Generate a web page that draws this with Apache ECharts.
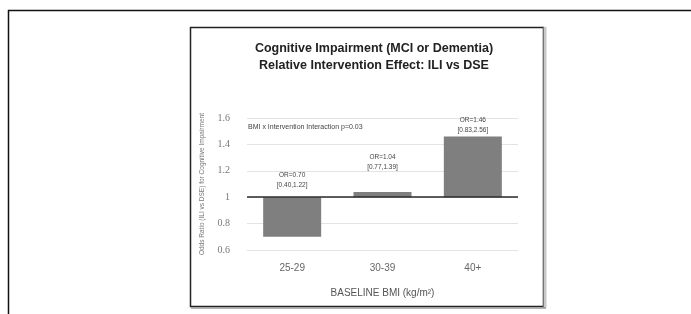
<!DOCTYPE html>
<html>
<head>
<meta charset="utf-8">
<script src="https://cdn.jsdelivr.net/npm/echarts@6/dist/echarts.min.js"></script>
<style>
  html, body { margin: 0; padding: 0; background: #fff; }
  #main { width: 691px; height: 314px; }
</style>
</head>
<body>
<div id="main"></div>
<script>
// data
var bmiGroups = ['25-29', '30-39', '40+'];
var oddsRatio = [0.70, 1.04, 1.46];
var orText = ['OR=0.70', 'OR=1.04', 'OR=1.46'];
var ciText = ['[0.40,1.22]', '[0.77,1.39]', '[0.83,2.56]'];
var yTicks = [0.6, 0.8, 1, 1.2, 1.4, 1.6];

var chart = echarts.init(document.getElementById('main'));

// bars hang from 1, so stack an invisible base under the grey part
var baseVals = oddsRatio.map(function (v) { return Math.min(v, 1); });
var diffVals = oddsRatio.map(function (v) { return Math.abs(v - 1); });
var labelDist = [7, 20, 1];

var option = {
  animation: false,
  title: {
    text: 'Cognitive Impairment (MCI or Dementia)\nRelative Intervention Effect: ILI vs DSE',
    left: 369,
    textAlign: 'center',
    top: 35,
    textStyle: {
      fontFamily: 'Liberation Sans, sans-serif',
      fontSize: 12.5,
      fontWeight: 'bold',
      color: '#222',
      lineHeight: 17
    }
  },
  grid: { left: 247, right: 173, top: 118, bottom: 64 },
  xAxis: {
    type: 'category',
    data: bmiGroups,
    name: 'BASELINE BMI (kg/m²)',
    nameLocation: 'middle',
    nameGap: 38,
    nameTextStyle: { fontFamily: 'Liberation Sans, sans-serif', fontSize: 10, color: '#555' },
    axisLine: { show: false },
    axisTick: { show: false },
    axisLabel: { margin: 13, fontFamily: 'Liberation Sans, sans-serif', fontSize: 10, color: '#666' }
  },
  yAxis: {
    type: 'value',
    min: yTicks[0],
    max: yTicks[yTicks.length - 1],
    interval: 0.2,
    name: 'Odds Ratio (ILI vs DSE) for Cognitive Impairment',
    nameLocation: 'middle',
    nameGap: 41,
    nameRotate: 90,
    nameTextStyle: { fontFamily: 'Liberation Sans, sans-serif', fontSize: 6.5, color: '#777' },
    axisLine: { show: false },
    axisTick: { show: false },
    axisLabel: {
      margin: 17,
      fontFamily: 'Liberation Serif, serif',
      fontSize: 10,
      color: '#777',
      formatter: function (v) { return String(Math.round(v * 10) / 10); }
    },
    splitLine: { lineStyle: { color: '#e3e3e3', width: 1 } }
  },
  graphic: [
    { type: 'line', shape: { x1: 8, y1: 10.5, x2: 691, y2: 10.5 }, style: { stroke: '#111', lineWidth: 1.5 } },
    { type: 'line', shape: { x1: 8.5, y1: 10, x2: 8.5, y2: 314 }, style: { stroke: '#111', lineWidth: 1.5 } },
    { type: 'rect', shape: { x: 190.5, y: 27.5, width: 353, height: 279 }, style: { fill: 'none', stroke: '#222', lineWidth: 1.5 } },
    { type: 'line', shape: { x1: 545, y1: 27, x2: 545, y2: 308 }, style: { stroke: '#c8c8c8', lineWidth: 3 } },
    { type: 'line', shape: { x1: 191, y1: 308, x2: 546, y2: 308 }, style: { stroke: '#999', lineWidth: 1.5 } },
    {
      type: 'text', left: 248, top: 124,
      style: { text: 'BMI x Intervention Interaction p=0.03', fontFamily: 'Liberation Sans, sans-serif', fontSize: 7, fill: '#444' }
    }
  ],
  series: [
    {
      type: 'bar',
      stack: 'or',
      data: baseVals,
      barWidth: 58,
      itemStyle: { color: 'rgba(0,0,0,0)' },
      silent: true,
      markLine: {
        silent: true,
        symbol: 'none',
        label: { show: false },
        lineStyle: { color: '#2a2a2a', type: 'solid', width: 1.5 },
        data: [{ yAxis: 1 }]
      }
    },
    {
      type: 'bar',
      stack: 'or',
      barWidth: 58,
      data: diffVals.map(function (v, i) {
        return { value: v, label: { distance: labelDist[i] } };
      }),
      itemStyle: { color: '#7f7f7f' },
      label: {
        show: true,
        position: 'top',
        fontFamily: 'Liberation Sans, sans-serif',
        fontSize: 6.5,
        lineHeight: 10,
        color: '#444',
        formatter: function (p) { return orText[p.dataIndex] + '\n' + ciText[p.dataIndex]; }
      }
    }
  ]
};

chart.setOption(option);
</script>
</body>
</html>
